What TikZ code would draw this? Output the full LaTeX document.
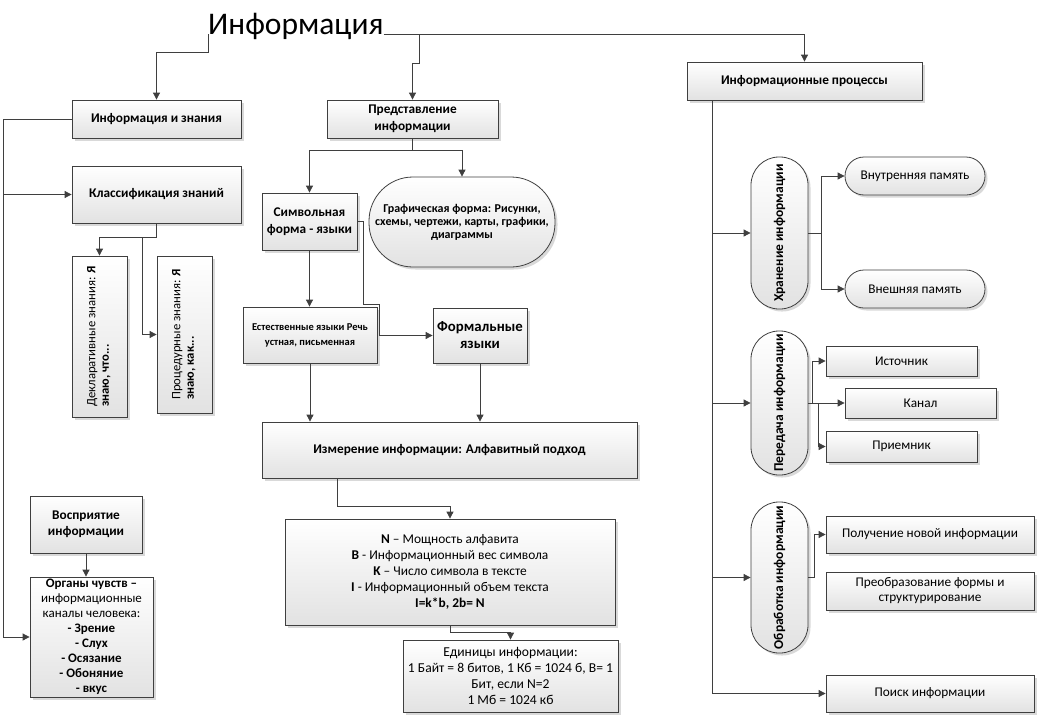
\documentclass[tikz,border=0pt]{standalone}
\usepackage{fontspec}
\setmainfont{Carlito}
\usetikzlibrary{arrows.meta, calc, shadows}
\definecolor{linegray}{HTML}{3F3F3F}
\definecolor{boxgray}{HTML}{E2E2E2}
\tikzstyle{infobox} = [draw=linegray,line width=0.8pt,top color=white,bottom color=boxgray,drop shadow={shadow xshift=2.5pt,shadow yshift=-2.5pt,opacity=0.3},align=center,inner sep=2pt,font=\fontsize{13.3}{16.5}\selectfont\bfseries]
\tikzstyle{plainbox} = [infobox,font=\fontsize{13.3}{16}\selectfont]
\tikzstyle{conn} = [->,>={Triangle[length=7pt,width=7pt]},draw=linegray,line width=0.8pt]
\tikzset{boxsize/.style 2 args={minimum width=#1pt,minimum height=#2pt}}

\begin{document}
\begin{tikzpicture}[x=1pt,y=-1pt]
		\useasboundingbox (0,0) rectangle (1037,715);

		\node[font=\fontsize{31.5}{33}\selectfont,inner sep=0pt,anchor=base west] (title) at (208,34) {Информация};

		\node[infobox,boxsize={169}{38}] (iz) at (156.5,119) {Информация и знания};
		\node[infobox,boxsize={171}{38}] (pr) at (412.5,119) {Представление\\информации};
		\node[infobox,boxsize={235}{38}] (ip) at (804.5,81) {Информационные процессы};

		\node[infobox,boxsize={169}{57}] (kl) at (156.5,194.5) {Классификация знаний};
		\node[infobox,boxsize={55}{161}] (dk) at (99.5,336.5) {\rotatebox{90}{\fontsize{12.7}{13.5}\selectfont\begin{tabular}{@{}l@{}}\mdseries Декларативные знания: \bfseries Я\\знаю, что...\end{tabular}}};
		\node[infobox,boxsize={55}{157}] (pc) at (184.5,334.5) {\rotatebox{90}{\fontsize{12.7}{13.5}\selectfont\begin{tabular}{@{}l@{}}\mdseries Процедурные знания: \bfseries Я\\знаю, как...\end{tabular}}};
		\node[infobox,boxsize={112}{57}] (vs) at (86,524.5) {Восприятие\\информации};
		\node[plainbox,boxsize={123}{120},inner sep=0pt,font=\fontsize{13}{15}\selectfont] (org) at (91.5,637) {\textbf{Органы чувств –}\\информационные\\каналы человека:\\\textbf{- Зрение}\\\textbf{- Слух}\\\textbf{- Осязание}\\\textbf{- Обоняние}\\\textbf{- вкус}};

		\node[infobox,boxsize={95}{57}] (sf) at (309.5,221.5) {Символьная\\форма - языки};
		\node[infobox,boxsize={186}{90},rounded corners=44pt,font=\fontsize{12}{13}\selectfont\bfseries] (gf) at (462,222) {Графическая форма: Рисунки,\\схемы, чертежи, карты, графики,\\диаграммы};
		\node[infobox,boxsize={134}{56},font=\fontsize{10.5}{15}\selectfont\bfseries] (es) at (310,335) {Естественные языки Речь\\устная, письменная};
		\node[infobox,boxsize={94}{55},font=\fontsize{14.8}{17}\selectfont\bfseries] (fl) at (480,335.5) {Формальные\\языки};
		\node[infobox,boxsize={375}{56}] (im) at (449.5,450) {Измерение информации: Алфавитный подход};
		\node[plainbox,boxsize={330}{106},font=\fontsize{13.4}{16}\selectfont] (nb) at (450,572) {\textbf{N} – Мощность алфавита\\\textbf{B} - Информационный вес символа\\\textbf{K} – Число символа в тексте\\\textbf{I} - Информационный объем текста\\\textbf{I=k*b, 2b= N}};
		\node[plainbox,boxsize={215}{72},font=\fontsize{13.6}{16}\selectfont] (ed) at (510.5,676) {Единицы информации:\\1 Байт = 8 битов, 1 Кб = 1024 б, B= 1\\Бит, если N=2\\1 Мб = 1024 кб};

		\node[infobox,boxsize={57}{152},rounded corners=28pt,font=\fontsize{13.5}{16}\selectfont\bfseries] (hr) at (779.5,233) {\rotatebox{90}{Хранение информации}};
		\node[plainbox,boxsize={140}{38},rounded corners=19pt] (vn) at (915,176) {Внутренняя память};
		\node[plainbox,boxsize={140}{38},rounded corners=19pt] (vp) at (915,289) {Внешняя память};
		\node[infobox,boxsize={57}{144},rounded corners=28pt,font=\fontsize{13.5}{16}\selectfont\bfseries] (pd) at (779.5,403) {\rotatebox{90}{Передача информации}};
		\node[plainbox,boxsize={151}{30}] (is) at (901.5,361) {Источник};
		\node[plainbox,boxsize={151}{30}] (kn) at (920.5,403) {Канал};
		\node[plainbox,boxsize={151}{31}] (pm) at (901.5,446.5) {Приемник};
		\node[infobox,boxsize={57}{151},rounded corners=28pt,font=\fontsize{13.5}{16}\selectfont\bfseries] (ob) at (779.5,577.5) {\rotatebox{90}{Обработка информации}};
		\node[plainbox,boxsize={208}{37}] (pl) at (930,534.5) {Получение новой информации};
		\node[plainbox,boxsize={208}{38},font=\fontsize{13.3}{15}\selectfont] (pf) at (930,591) {Преобразование формы и\\структурирование};
		\node[plainbox,boxsize={208}{37}] (ps) at (930,693.5) {Поиск информации};

		\draw[conn] (title.base west) -- ++(0,18) -| (iz.north);
		\draw[conn] (title.base east) -| (ip.north);
		\draw[conn] ($(title.base east)+(36,0)$) -- ++(0,29) -| (pr.north);

		\coordinate (lft) at (3,119);
		\draw[conn] (iz.west) -- (lft) |- (org.west);
		\draw[conn] (lft |- kl.west) -- (kl.west);
		\coordinate (kj) at ($(kl.south)+(0,14)$);
		\draw[conn] (kl.south) -- (kj) -| (dk.north);
		\draw[conn] ($(kj)+(-14,0)$) |- (pc.west);
		\draw[conn] (vs.south) -- (vs.south |- org.north);

		\draw[conn] (pr.south) -- ++(0,12) -| (sf.north);
		\draw[conn] (pr.south) -- ++(0,12) -| (gf.north);
		\draw[conn] (sf.south) -- (sf.south |- es.north);
		\draw[conn] (sf.east) -- ++(6,0) -- ++(0,83) -- ++(16,0) |- (fl.west);
		\draw[conn] (es.south) -- (es.south |- im.north);
		\draw[conn] (fl.south) -- (fl.south |- im.north);
		\draw[conn] ([xshift=-112.5pt]im.south) -- ++(0,28) -| (nb.north);
		\draw[conn] (nb.south) -- ++(0,7) -| (ed.north);

		\coordinate (rt) at ([xshift=26pt]ip.south west);
		\draw[conn] (rt) |- (ps.west);
		\draw[conn] (rt |- hr.west) -- (hr.west);
		\draw[conn] (rt |- pd.west) -- (pd.west);
		\draw[conn] (rt |- ob.west) -- (ob.west);
		\draw[conn] (hr.east) -- ++(13,0) |- (vn.west);
		\draw[conn] (hr.east) -- ++(13,0) |- (vp.west);
		\draw[conn] (pd.east) -- (kn.west);
		\draw[conn] ([xshift=4pt]pd.east) |- (is.west);
		\draw[conn] ([xshift=10pt]pd.east) |- (pm.west);
		\draw[conn] (ob.east) -- ++(6,0) |- (pl.west);
	\end{tikzpicture}
\end{document}
